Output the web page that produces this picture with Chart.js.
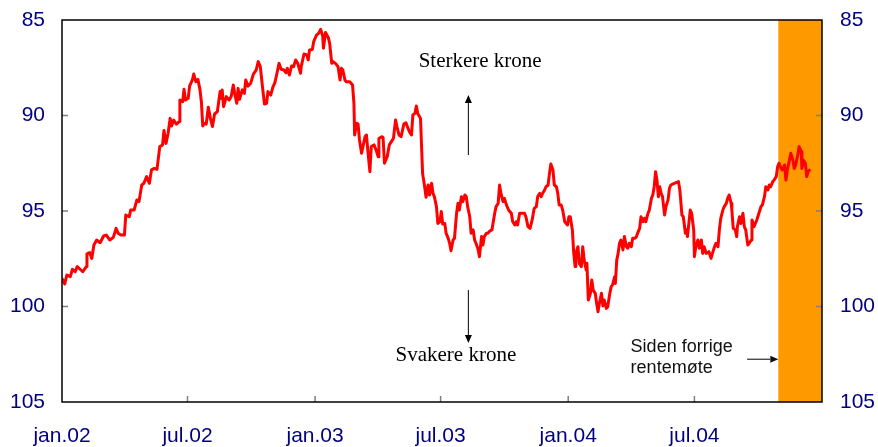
<!DOCTYPE html>
<html>
<head>
<meta charset="utf-8">
<script src="https://cdn.jsdelivr.net/npm/chart.js@4.4.1/dist/chart.umd.min.js"></script>
<style>
  html, body { margin: 0; padding: 0; background: #fff; }
  canvas { display: block; }
</style>
</head>
<body>
<canvas id="kurs" width="878" height="447"></canvas>
<script>
// days counted from 1 Jan 2002, index value (inverted axis: lower = stronger krone)
const days = [
  0, 4, 7, 12, 15, 19, 22, 26, 30, 35, 36, 40, 43, 46, 50, 55, 60, 64, 69, 74,
  78, 81, 85, 90, 92, 97, 99, 104, 108, 111, 115, 118, 122, 126, 129, 133, 137, 141, 145, 147,
  150, 153, 156, 158, 161, 165, 169, 170, 174, 176, 178, 182, 184, 188, 190, 193, 196, 199, 201, 203,
  205, 208, 211, 214, 217, 220, 224, 228, 230, 231, 233, 237, 241, 244, 247, 249, 252, 254, 256, 260,
  263, 265, 268, 272, 276, 280, 283, 286, 289, 292, 295, 297, 301, 304, 307, 310, 313, 316, 320, 323,
  325, 328, 331, 334, 337, 340, 344, 345, 349, 353, 355, 357, 361, 363, 367, 370, 373, 376, 377, 380,
  384, 386, 389, 391, 395, 398, 401, 403, 405, 408, 410, 415, 419, 421, 422, 425, 427, 429, 432, 434,
  437, 439, 441, 444, 446, 450, 453, 456, 457, 461, 463, 465, 469, 472, 475, 478, 481, 483, 486, 489,
  493, 496, 499, 501, 504, 506, 509, 511, 513, 517, 520, 523, 525, 528, 530, 533, 535, 537, 540, 542,
  545, 547, 549, 552, 554, 557, 559, 561, 564, 566, 569, 571, 573, 576, 578, 581, 583, 585, 588, 590,
  593, 595, 597, 600, 602, 605, 607, 609, 612, 614, 617, 620, 624, 626, 629, 631, 633, 636, 638, 641,
  644, 648, 650, 653, 655, 657, 660, 664, 667, 669, 672, 675, 678, 681, 684, 686, 689, 691, 693, 696,
  698, 701, 703, 705, 708, 710, 713, 715, 717, 720, 722, 725, 727, 729, 731, 733, 736, 738, 740, 741,
  744, 746, 749, 751, 753, 756, 757, 759, 762, 764, 766, 769, 771, 773, 775, 778, 780, 782, 785, 787,
  790, 792, 794, 797, 798, 800, 802, 804, 806, 809, 811, 814, 816, 818, 821, 823, 826, 828, 830, 833,
  835, 838, 840, 842, 845, 847, 850, 852, 854, 856, 858, 860, 862, 864, 866, 869, 871, 874, 876, 878,
  883, 889, 891, 894, 896, 899, 901, 902, 904, 906, 908, 911, 912, 914, 917, 919, 922, 924, 926, 929,
  933, 936, 938, 941, 943, 946, 948, 950, 953, 955, 958, 960, 962, 965, 966, 968, 971, 973, 974, 977,
  979, 982, 984, 986, 989, 991, 994, 995, 998, 1002, 1005, 1008, 1010, 1013, 1015, 1018, 1020, 1022, 1025, 1027,
  1030, 1032, 1034, 1037, 1039, 1042, 1044, 1046, 1049, 1051, 1054, 1056, 1058, 1061, 1063, 1066, 1067, 1069, 1072, 1074,
  1076, 1079
];
const index = [
  98.53, 98.82, 98.35, 98.44, 98.05, 98.18, 97.91, 98.05, 98.18, 97.91, 97.25, 97.18, 97.48, 96.78, 96.52, 96.66, 96.31, 96.26, 96.52, 96.38,
  95.91, 96.17, 96.26, 96.26, 95.21, 95.30, 94.95, 94.95, 94.42, 94.51, 93.64, 93.55, 93.20, 93.55, 92.85, 92.77, 92.82, 91.63, 91.54, 90.79,
  91.46, 90.93, 90.15, 90.55, 90.24, 90.45, 90.32, 89.19, 89.28, 88.63, 89.19, 89.10, 88.46, 88.14, 87.83, 88.23, 88.11, 88.66, 89.28, 90.55,
  90.41, 90.45, 89.57, 90.15, 90.58, 89.92, 89.80, 88.75, 89.10, 88.66, 89.54, 89.01, 89.19, 89.01, 88.40, 88.84, 89.36, 88.58, 89.15, 88.66,
  88.84, 88.14, 88.46, 88.32, 87.83, 87.62, 87.18, 87.44, 88.46, 89.40, 89.36, 88.75, 88.93, 88.53, 88.28, 87.79, 87.27, 87.58, 87.62, 87.76,
  87.53, 87.88, 87.41, 87.44, 87.09, 87.27, 87.79, 87.44, 86.78, 86.83, 87.09, 86.57, 86.54, 86.13, 85.79, 85.70, 85.49, 85.84, 86.48, 85.66,
  85.91, 86.22, 87.27, 87.18, 87.30, 87.44, 88.14, 87.53, 87.62, 88.14, 88.23, 88.23, 88.40, 89.36, 91.02, 90.41, 90.45, 91.28, 91.98, 91.63,
  91.11, 91.02, 91.81, 92.94, 91.63, 91.54, 91.81, 92.16, 91.20, 91.11, 91.14, 92.50, 92.16, 91.54, 91.37, 91.20, 90.24, 90.58, 91.02, 91.11,
  90.45, 90.38, 90.67, 90.85, 91.02, 89.97, 89.89, 89.50, 89.89, 90.15, 93.03, 93.73, 94.28, 93.64, 94.16, 93.55, 94.08, 94.25, 94.77, 95.65,
  95.56, 95.03, 95.68, 95.65, 96.17, 96.43, 96.69, 97.08, 96.52, 96.43, 95.12, 94.60, 94.95, 94.25, 94.51, 94.16, 94.25, 94.77, 95.30, 96.17,
  95.99, 96.52, 96.69, 97.01, 97.39, 96.34, 96.78, 96.34, 96.17, 96.17, 96.05, 95.99, 95.12, 94.77, 94.60, 93.64, 94.08, 94.51, 94.34, 94.69,
  94.95, 95.12, 95.56, 95.73, 95.56, 95.73, 95.12, 95.12, 95.12, 95.30, 95.82, 95.91, 95.47, 94.86, 94.77, 94.25, 94.08, 94.25, 94.08, 93.90,
  93.73, 93.64, 93.03, 92.54, 92.85, 93.64, 93.73, 94.08, 94.69, 94.69, 94.95, 95.56, 95.65, 95.73, 95.30, 95.30, 95.99, 97.22, 97.91, 97.22,
  96.87, 97.74, 97.91, 96.87, 97.57, 98.09, 97.74, 99.66, 99.31, 98.61, 99.14, 99.31, 99.83, 100.27, 99.83, 99.31, 99.97, 99.66, 100.10, 100.01,
  99.31, 98.96, 98.87, 98.44, 98.79, 97.57, 97.22, 96.69, 96.52, 97.04, 96.34, 96.87, 96.95, 96.69, 96.87, 96.43, 96.43, 96.38, 96.17, 95.91,
  95.30, 95.56, 95.38, 95.56, 95.12, 94.95, 94.34, 94.16, 93.73, 92.94, 93.38, 94.25, 93.73, 94.08, 94.25, 95.21, 94.77, 94.42, 93.81, 93.64,
  93.55, 93.46, 93.90, 95.21, 95.30, 96.17, 95.99, 96.34, 95.65, 94.95, 95.12, 95.99, 97.39, 96.87, 96.52, 96.95, 96.52, 97.22, 96.87, 97.22,
  97.13, 97.48, 97.22, 96.87, 96.69, 96.87, 95.99, 95.38, 94.95, 94.77, 94.60, 94.34, 94.16, 94.60, 94.95, 95.91, 95.99, 96.34, 95.82, 95.30,
  95.65, 95.12, 95.82, 95.99, 96.78, 96.69, 96.52, 95.47, 95.82, 95.47, 95.12, 94.77, 94.69, 94.25, 93.73, 93.90, 93.64, 93.73, 93.46, 93.38,
  93.20, 92.68, 92.50, 92.77, 92.85, 92.59, 93.38, 92.85, 92.33, 91.98, 92.33, 92.77, 92.59, 92.07, 91.63, 91.89, 92.77, 92.33, 92.50, 93.20,
  92.94, 92.82
];

const tickDays = [0, 181, 365, 546, 730, 912];
const tickLabels = ['jan.02', 'jul.02', 'jan.03', 'jul.03', 'jan.04', 'jul.04'];
const lastDay = 1096;        // 1 Jan 2005
const meetingDay = 1033;     // last interest rate meeting

const navy = '#000080';
const sans = '"Liberation Sans", Arial, sans-serif';
const serif = '"Liberation Serif", "Times New Roman", serif';

function arrow(ctx, x1, y1, x2, y2) {
    const ang = Math.atan2(y2 - y1, x2 - x1);
    const len = 8, half = 3.5;
    ctx.beginPath();
    ctx.moveTo(x1, y1);
    ctx.lineTo(x2 - len * Math.cos(ang), y2 - len * Math.sin(ang));
    ctx.stroke();
    ctx.beginPath();
    ctx.moveTo(x2, y2);
    ctx.lineTo(x2 - len * Math.cos(ang) + half * Math.sin(ang), y2 - len * Math.sin(ang) - half * Math.cos(ang));
    ctx.lineTo(x2 - len * Math.cos(ang) - half * Math.sin(ang), y2 - len * Math.sin(ang) + half * Math.cos(ang));
    ctx.closePath();
    ctx.fill();
}

const decor = {
    id: 'decor',
    beforeDatasetsDraw(chart) {
        const { ctx, chartArea: a, scales } = chart;
        const x0 = scales.x.getPixelForValue(meetingDay);
        ctx.save();
        ctx.fillStyle = '#ff9900';
        ctx.fillRect(x0, a.top, a.right - x0, a.bottom - a.top);
        ctx.restore();
    },
    afterDatasetsDraw(chart) {
        const { ctx, chartArea: a, scales } = chart;
        const x = scales.x, y = scales.y;
        ctx.save();

        // small inside ticks
        ctx.strokeStyle = '#7f7f7f';
        ctx.lineWidth = 1.5;
        ctx.beginPath();
        [90, 95, 100].forEach(v => {
            const py = y.getPixelForValue(v);
            ctx.moveTo(a.left, py); ctx.lineTo(a.left + 6, py);
            ctx.moveTo(a.right, py); ctx.lineTo(a.right - 6, py);
        });
        tickDays.slice(1).forEach(d => {
            const px = x.getPixelForValue(d);
            ctx.moveTo(px, a.bottom); ctx.lineTo(px, a.bottom - 6);
        });
        ctx.stroke();

        // frame
        ctx.strokeStyle = '#000';
        ctx.lineWidth = 1.5;
        ctx.strokeRect(a.left, a.top, a.right - a.left, a.bottom - a.top);

        // annotations
        ctx.fillStyle = '#000';
        ctx.strokeStyle = '#000';
        ctx.lineWidth = 1;
        ctx.font = '21px ' + serif;
        ctx.textAlign = 'center';
        ctx.textBaseline = 'alphabetic';
        ctx.fillText('Sterkere krone', x.getPixelForValue(603), y.getPixelForValue(87.48));
        ctx.fillText('Svakere krone', x.getPixelForValue(568), y.getPixelForValue(102.85));

        const ax = x.getPixelForValue(586);
        arrow(ctx, ax, y.getPixelForValue(92.07), ax, y.getPixelForValue(88.93));
        arrow(ctx, ax, y.getPixelForValue(99.14), ax, y.getPixelForValue(101.91));

        ctx.font = '18px ' + sans;
        ctx.textAlign = 'left';
        ctx.fillStyle = '#111';
        const tx = x.getPixelForValue(820);
        ctx.fillText('Siden forrige', tx, y.getPixelForValue(102.37));
        ctx.fillText('rentemøte', tx, y.getPixelForValue(103.50));
        const ay = y.getPixelForValue(102.76);
        arrow(ctx, x.getPixelForValue(988), ay, x.getPixelForValue(meetingDay), ay);

        ctx.restore();
    }
};

const yTicks = {
    stepSize: 5,
    color: navy,
    font: { family: sans, size: 21 }
};

// fixed axis sizes, no label overflow padding
function fixWidth(w) {
    return s => { s.width = w; s.paddingTop = 0; s.paddingBottom = 0; };
}

new Chart(document.getElementById('kurs'), {
    type: 'line',
    data: {
        datasets: [{
            data: days.map((d, i) => ({ x: d, y: index[i] })),
            borderColor: '#ff0000',
            borderWidth: 3,
            borderJoinStyle: 'round',
            pointRadius: 0,
            tension: 0,
            fill: false
        }]
    },
    options: {
        responsive: false,
        animation: false,
        devicePixelRatio: 1,
        layout: { padding: { top: 20, left: 0, right: 0, bottom: 0 } },
        plugins: {
            legend: { display: false },
            tooltip: { enabled: false }
        },
        scales: {
            x: {
                type: 'linear',
                min: 0,
                max: lastDay,
                grid: { display: false, drawTicks: false },
                border: { display: false },
                afterBuildTicks: s => { s.ticks = tickDays.map(v => ({ value: v })); },
                afterFit: s => { s.height = 45; s.paddingLeft = 0; s.paddingRight = 0; },
                ticks: {
                    autoSkip: false,
                    maxRotation: 0,
                    padding: 22,
                    color: navy,
                    font: { family: sans, size: 21 },
                    callback: v => tickLabels[tickDays.indexOf(v)]
                }
            },
            y: {
                position: 'left',
                reverse: true,
                min: 85,
                max: 105,
                grid: { display: false, drawTicks: false },
                border: { display: false },
                afterFit: fixWidth(62),
                ticks: { ...yTicks, padding: 17 }
            },
            y2: {
                position: 'right',
                reverse: true,
                min: 85,
                max: 105,
                grid: { display: false, drawTicks: false },
                border: { display: false },
                afterFit: fixWidth(56),
                ticks: { ...yTicks, padding: 18 }
            }
        }
    },
    plugins: [decor]
});
</script>
</body>
</html>
